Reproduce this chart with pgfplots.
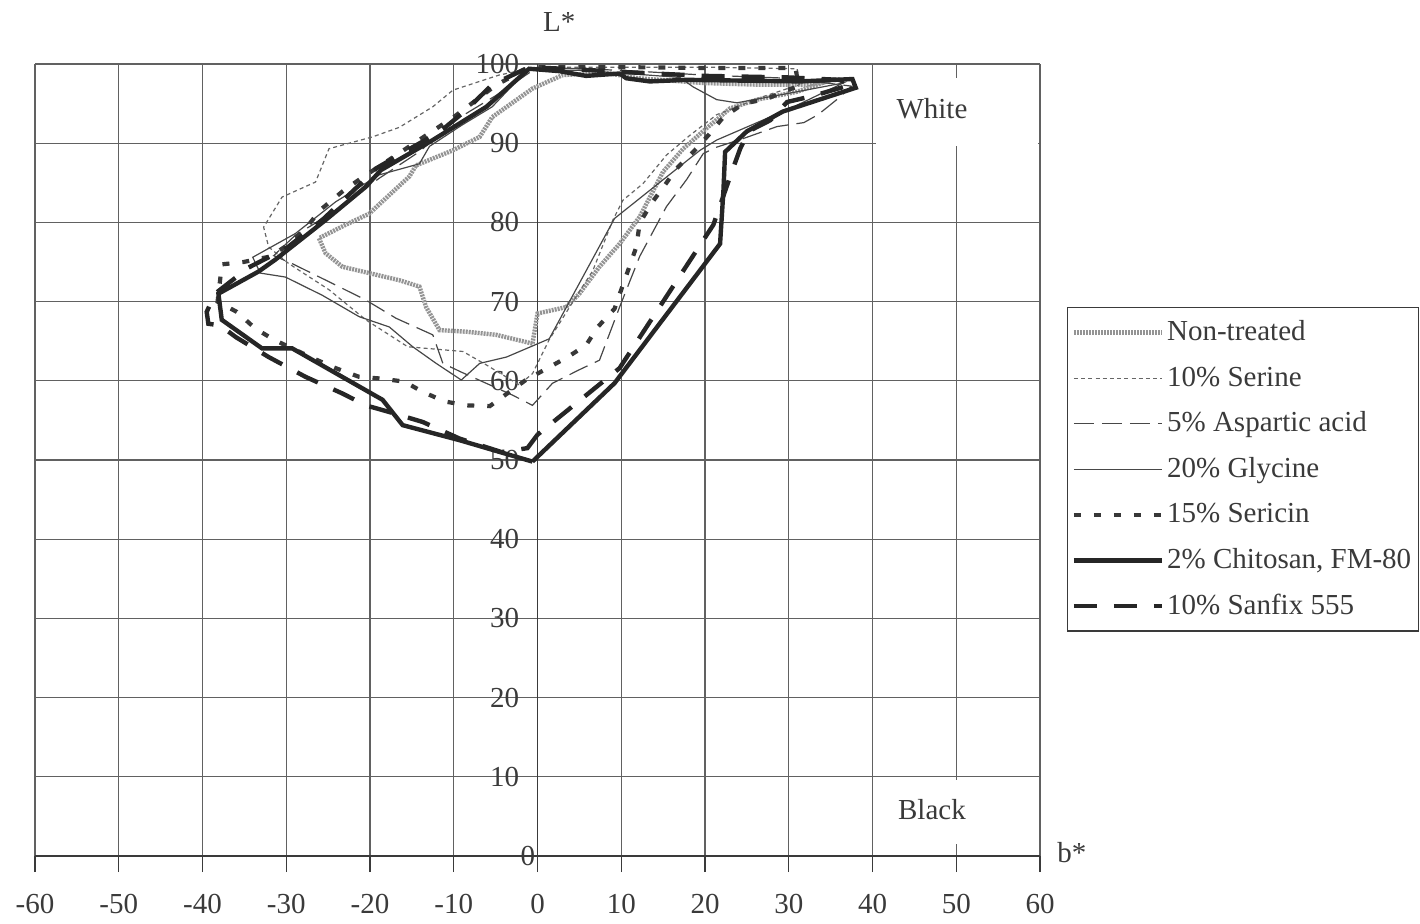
\documentclass[border=0pt]{standalone}
\usepackage{fontspec}
\setmainfont{Liberation Serif}
\usepackage{pgfplots}
\pgfplotsset{compat=1.18}
\definecolor{ink}{HTML}{3A3A3A}
\begin{document}
\fontsize{14.5}{17}\selectfont
\begin{tikzpicture}
\begin{axis}[
  scale only axis,
  width=502.5pt, height=396pt,
  xmin=-60, xmax=60, ymin=0, ymax=100,
  clip=false,
  axis x line=bottom, axis y line=middle,
  axis line style={-, ink, line width=0.7pt},
  xtick={-60,-50,-40,-30,-20,-10,0,10,20,30,40,50,60},
  ytick={0,10,20,30,40,50,60,70,80,90,100},
  xticklabels={-60,-50,-40,-30,-20,-10,0,10,20,30,40,50,60},
  yticklabels={0,10,20,30,40,50,60,70,80,90,100},
  grid=major,
  major grid style={black!62, line width=0.6pt},
  tick align=outside,
  major tick length=8pt,
  tick style={ink, line width=0.6pt},
  every major y tick/.style={draw=none},
  every y tick/.style={draw=none},
  xticklabel style={font=\fontsize{14.5}{17}\selectfont, text=ink, yshift=-6pt},
  yticklabel style={font=\fontsize{14.5}{17}\selectfont, text=ink, inner xsep=1pt},
  legend cell align=left,
  legend image code/.code={\draw[#1] (0pt,0pt) -- (44pt,0pt);},
  legend style={at={(1.027,0.693)}, anchor=north west, draw=ink, line width=0.6pt,
    font=\fontsize{14.5}{17}\selectfont, text=ink, fill=white,
    inner xsep=2pt, inner ysep=1pt,
    nodes={text height=11pt, text depth=3pt, inner ysep=4.4pt, inner xsep=1.5pt},
    /tikz/every even column/.append style={column sep=0pt}},
]
\coordinate (SW) at (axis cs:-60,0);
% white label boxes
\fill[white] (axis cs:40.4,89.6) rectangle (axis cs:59.8,98.2);
\fill[white] (axis cs:40.4,1.5) rectangle (axis cs:59.8,9.6);
\node[text=ink] at (axis cs:47.1,94.4) {White};
\node[text=ink] at (axis cs:47.1,5.8) {Black};
\node[text=ink] at (axis cs:2.6,100) [yshift=21pt] {L*};
\node[text=ink] at (axis cs:63.8,0.4) {b*};
\node[text=ink, anchor=east, inner xsep=1pt] at (axis cs:0,0) {0};

% Non-treated
\addplot[black!42, line width=2.2pt, dash pattern=on 1pt off 0.5pt] coordinates {
(-0.6,64.7) (-4.9,65.8) (-8.5,66.2) (-11.7,66.4) (-13.3,69.3) (-14.1,71.9)
(-16.5,72.7) (-20.1,73.6) (-23.3,74.4) (-25.3,76.1) (-26.1,78.0) (-22.9,79.7)
(-20.1,81.1) (-15.3,85.8) (-14.5,87.2) (-10.1,89.1) (-6.9,90.8) (-5.4,93.3)
(-0.6,96.9) (3.0,98.6) (8.0,98.9) (12.0,98.2) (19.8,97.6) (26.0,97.4)
(32.2,97.4) (34.0,97.6) (31.0,96.5) (26.2,95.5) (23.0,94.4) (20.2,91.9)
(17.4,89.3) (15.0,86.4) (12.2,80.7) (9.8,77.3) (7.4,74.4) (5.0,71.0)
(3.4,69.3) (0.0,68.5) (-0.6,64.7)};
\addlegendentry{Non-treated}

% 10% Serine
\addplot[black!60, line width=0.6pt, dash pattern=on 2pt off 1.6pt] coordinates {
(-2.2,59.5) (-6.1,62.0) (-8.9,63.7) (-15.5,64.3) (-20.5,67.7) (-24.9,71.5)
(-29.7,74.8) (-32.1,76.9) (-32.7,79.4) (-30.5,83.2) (-26.5,85.1) (-24.9,89.3)
(-19.7,90.8) (-16.5,92.0) (-12.5,94.6) (-10.1,96.7) (-4.6,98.6) (0.0,99.6)
(10.0,99.6) (20.0,99.6) (31.0,99.4) (31.3,97.4) (27.0,95.9) (21.4,93.6)
(18.2,91.0) (15.4,88.5) (12.6,84.9) (10.2,82.8) (9.0,80.3) (6.6,73.9)
(4.6,70.6) (1.4,65.2) (-0.6,60.9) (-2.2,59.5)};
\addlegendentry{10\% Serine}

% 5% Aspartic acid
\addplot[black!72, line width=0.6pt, dash pattern=on 10pt off 4pt] coordinates {
(-29.3,74.8) (-24.5,72.3) (-20.5,70.2) (-16.9,67.9) (-12.5,65.8) (-11.3,62.2)
(-9.1,61.1) (-3.0,58.2) (-0.6,56.9) (1.8,59.7) (5.0,61.4) (7.4,62.6)
(9.8,69.3) (12.2,75.7) (15.4,82.0) (17.8,85.4) (19.8,88.7) (21.4,89.5)
(24.6,90.6) (28.6,92.1) (31.8,92.6) (33.5,93.6) (36.2,95.9) (37.5,97.2)
(30.0,98.2) (20.0,98.6) (10.0,99.2) (0.0,99.6) (-5.0,96.0) (-10.0,92.8)
(-14.0,89.0) (-19.0,85.5) (-24.0,81.5) (-28.9,78.4) (-31.5,75.8) (-29.3,74.8)};
\addlegendentry{5\% Aspartic acid}

% 20% Glycine
\addplot[black!72, line width=0.6pt] coordinates {
(1.4,65.3) (-3.7,63.0) (-6.9,62.2) (-9.1,60.1) (-12.1,62.2) (-14.9,64.3)
(-17.7,66.8) (-21.3,68.1) (-25.7,70.8) (-30.1,73.1) (-33.1,73.6) (-34.0,75.6)
(-28.9,78.6) (-24.1,82.6) (-18.9,86.0) (-14.1,87.4) (-12.9,89.6) (-9.0,92.3)
(-5.4,94.6) (-1.2,99.3) (5.0,99.2) (12.0,98.7) (17.0,98.3) (18.6,97.1)
(21.4,95.5) (23.8,95.1) (30.0,96.3) (36.5,97.6) (30.6,94.6) (21.4,90.4)
(19.4,89.1) (9.2,80.5) (1.4,65.3)};
\addlegendentry{20\% Glycine}

% 15% Sericin
\addplot[black!78, line width=2.1pt, dash pattern=on 3.5pt off 6.5pt] coordinates {
(-1.4,60.1) (-5.7,56.8) (-8.5,56.9) (-11.1,57.4) (-13.7,58.6) (-15.9,59.9)
(-18.9,60.3) (-21.3,60.5) (-24.1,61.6) (-26.7,62.8) (-31.5,65.2) (-33.7,66.6)
(-35.9,68.7) (-38.2,70.0) (-37.9,72.7) (-37.7,74.7) (-35.1,75.0) (-31.9,75.7)
(-29.9,77.1) (-27.7,79.2) (-25.9,81.6) (-23.3,83.9) (-21.7,85.1) (-19.3,86.8)
(-15.0,89.8) (-10.0,93.3) (-5.0,97.3) (-1.0,99.6) (10.0,99.6) (20.0,99.5)
(30.8,99.5) (31.2,97.2) (29.8,96.7) (27.4,95.6) (24.6,95.0) (22.2,93.3)
(20.4,91.0) (18.6,88.9) (16.6,86.8) (15.2,84.7) (13.6,82.4) (12.2,79.9)
(11.8,76.9) (9.2,69.1) (7.2,66.8) (5.8,64.5) (3.6,63.0) (1.2,61.6) (-1.4,60.1)};
\addlegendentry{15\% Sericin}

% 2% Chitosan, FM-80
\addplot[black!85, line width=2.2pt] coordinates {
(-0.6,49.8) (-9.3,52.5) (-16.1,54.4) (-18.5,57.6) (-29.3,64.1) (-32.9,64.1)
(-37.7,67.7) (-38.1,71.0) (-33.3,73.8) (-31.3,75.3) (-25.3,80.3) (-20.5,84.5)
(-18.7,86.6) (-12.5,90.4) (-6.1,94.6) (-1.0,99.4) (2.6,99.1) (5.8,98.5)
(9.8,98.8) (10.6,98.2) (13.4,97.8) (17.8,98.0) (31.4,97.8) (37.6,98.1)
(38.0,97.0) (29.3,94.0) (25.0,91.5) (22.4,88.9) (22.2,84.0) (21.8,77.3)
(9.2,59.7) (-0.6,49.8)};
\addlegendentry{2\% Chitosan, FM-80}

% 10% Sanfix 555
\addplot[black!85, line width=2.2pt, dash pattern=on 11.5pt off 8.5pt] coordinates {
(0.0,53.2) (-1.2,51.5) (-4.3,51.0) (-9.3,52.7) (-13.7,54.8) (-17.5,56.0)
(-20.5,56.9) (-23.3,58.4) (-27.7,60.5) (-32.1,63.0) (-36.0,65.5) (-37.9,67.0)
(-39.3,67.2) (-39.5,68.7) (-38.5,71.0) (-34.5,74.3) (-29.9,76.8) (-25.5,80.5)
(-20.9,85.1) (-19.3,86.8) (-14.9,89.5) (-11.7,91.4) (-8.5,94.2) (-5.4,97.4)
(-3.0,98.6) (-1.0,99.6) (5.0,99.3) (10.0,99.0) (20.0,98.5) (30.0,98.3)
(36.0,98.0) (37.5,97.4) (33.0,96.0) (29.8,95.2) (27.8,92.9) (25.2,91.5)
(24.2,89.3) (23.2,86.4) (21.0,79.7) (9.8,61.6) (0.0,53.2)};
\addlegendentry{10\% Sanfix 555}
\end{axis}
\pgfresetboundingbox
\path (SW) ++(-17.5pt,-33.5pt) rectangle ++(710pt,461.5pt);
\end{tikzpicture}
\end{document}
